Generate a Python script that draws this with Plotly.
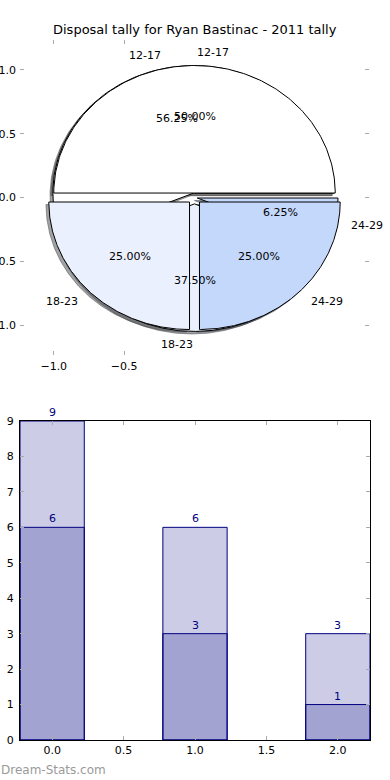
import numpy as np
import plotly.graph_objects as go

# ---------------- data ----------------
title_text = "Disposal tally for Ryan Bastinac - 2011 tally"
categories = ["12-17", "18-23", "24-29"]
pie_a_values = [9, 6, 1]      # 56.25% / 37.50% / 6.25%
pie_b_values = [6, 3, 3]      # 50.00% / 25.00% / 25.00%
pie_a_explode = [0.035, 0.05, 0.02]
pie_b_explode = [0.035, 0.05, 0.05]
slice_colors = ["#FFFFFF", "#EAF0FD", "#C4D8FB"]

bar_x = [0, 1, 2]
bar_back = [9, 6, 3]
bar_front = [6, 3, 1]

pie_xticks = [-1.0, -0.5]
pie_yticks = [1.0, 0.5, 0.0, -0.5, -1.0]
bar_xticks = [0.0, 0.5, 1.0, 1.5, 2.0]
bar_yticks = list(range(0, 10))

FONT = "DejaVu Sans"
W, H = 390, 780

fig = go.Figure()


def hex_rgb(h):
    h = h.lstrip("#")
    return tuple(int(h[i:i + 2], 16) for i in (0, 2, 4))


def wedges(values, explode):
    total = float(sum(values))
    out = []
    start = 0.0
    for v, ex in zip(values, explode):
        frac = v / total
        t1 = start * 360.0
        t2 = (start + frac) * 360.0
        tm = np.deg2rad((t1 + t2) / 2)
        cx = ex * np.cos(tm)
        cy = ex * np.sin(tm)
        th = np.deg2rad(np.linspace(t1, t2, 200))
        xs = np.concatenate([[cx], cx + np.cos(th), [cx]])
        ys = np.concatenate([[cy], cy + np.sin(th), [cy]])
        out.append(dict(xs=xs, ys=ys, tm=tm, cx=cx, cy=cy, pct=frac * 100))
        start += frac
    return out


pies = [wedges(pie_a_values, pie_a_explode), wedges(pie_b_values, pie_b_explode)]

# shadows (drawn below all wedges)
for wl in pies:
    for i, w in enumerate(wl):
        r, g, b = hex_rgb(slice_colors[i])
        col = "rgba(%d,%d,%d,0.5)" % (r * 0.3, g * 0.3, b * 0.3)
        fig.add_trace(go.Scatter(x=w["xs"] - 0.02, y=w["ys"] - 0.02, mode="lines",
                                 fill="toself", fillcolor=col,
                                 line=dict(color=col, width=1),
                                 xaxis="x", yaxis="y", showlegend=False, hoverinfo="skip"))

# wedges
for wl in pies:
    for i, w in enumerate(wl):
        fig.add_trace(go.Scatter(x=w["xs"], y=w["ys"], mode="lines",
                                 fill="toself", fillcolor=slice_colors[i],
                                 line=dict(color="black", width=1),
                                 xaxis="x", yaxis="y", showlegend=False, hoverinfo="skip"))

annotations = []
for wl in pies:
    for i, w in enumerate(wl):
        tm = w["tm"]
        lx = w["cx"] + 1.1 * np.cos(tm)
        ly = w["cy"] + 1.1 * np.sin(tm)
        annotations.append(dict(x=lx, y=ly, xref="x", yref="y", text=categories[i],
                                showarrow=False, xanchor="left" if lx > 0 else "right",
                                yanchor="middle", font=dict(family=FONT, size=11, color="black")))
        px_ = w["cx"] + 0.6 * np.cos(tm)
        py_ = w["cy"] + 0.6 * np.sin(tm)
        annotations.append(dict(x=px_, y=py_, xref="x", yref="y", text="%.2f%%" % w["pct"],
                                showarrow=False, xanchor="center", yanchor="middle",
                                font=dict(family=FONT, size=11, color="black")))

# bars
bar_fill = "rgba(0,0,128,0.2)"
for vals in (bar_back, bar_front):
    fig.add_trace(go.Bar(x=bar_x, y=vals, width=0.45, marker=dict(color=bar_fill,
                         line=dict(color="#000080", width=1)),
                         xaxis="x2", yaxis="y2", showlegend=False, hoverinfo="skip"))
    for xv, yv in zip(bar_x, vals):
        annotations.append(dict(x=xv, y=yv, xref="x2", yref="y2", text=str(yv),
                                showarrow=False, xanchor="center", yanchor="bottom", yshift=0,
                                font=dict(family=FONT, size=11, color="#000080")))

annotations.append(dict(x=0.5, y=1 - 30 / H, xref="paper", yref="paper", text=title_text,
                        showarrow=False, xanchor="center", yanchor="middle",
                        font=dict(family=FONT, size=13, color="black")))
annotations.append(dict(x=-1 / W, y=1 - 770 / H, xref="paper", yref="paper", text="Dream-Stats.com",
                        showarrow=False, xanchor="left", yanchor="middle",
                        font=dict(family=FONT, size=12, color="#9a9a9a")))

tickfont = dict(family=FONT, size=11, color="black")
xdom = [20 / W, 369 / W]
fig.update_layout(
    width=W, height=H, margin=dict(l=0, r=0, t=0, b=0),
    paper_bgcolor="white", plot_bgcolor="white",
    barmode="overlay",
    annotations=annotations,
    xaxis=dict(domain=xdom, range=[-1.24, 1.24], tickvals=pie_xticks,
               ticktext=["\u22121.0", "\u22120.5"], showgrid=False, zeroline=False,
               showline=False, ticks="inside", ticklen=4, tickcolor="#aaaaaa",
               mirror="ticks", tickfont=tickfont, anchor="y", automargin=False,
               ticklabelstandoff=3),
    yaxis=dict(domain=[1 - 355 / H, 1 - 40 / H], range=[-1.235, 1.235], tickvals=pie_yticks,
               ticktext=["1.0", "0.5", "0.0", "\u22120.5", "\u22121.0"], showgrid=False,
               zeroline=False, showline=False, ticks="inside", ticklen=4, tickcolor="#aaaaaa",
               mirror="ticks", tickfont=tickfont, anchor="x", automargin=False,
               ticklabelstandoff=3),
    xaxis2=dict(domain=[20 / W, 370 / W], range=[-0.225, 2.225], tickvals=bar_xticks,
                ticktext=["%.1f" % v for v in bar_xticks], showgrid=False, zeroline=False,
                showline=True, linecolor="black", linewidth=1, mirror="ticks",
                ticks="inside", ticklen=4, tickcolor="#aaaaaa", tickfont=tickfont,
                anchor="y2", automargin=False),
    yaxis2=dict(domain=[1 - 740 / H, 1 - 421 / H], range=[0, 9], tickvals=bar_yticks,
                showgrid=False, zeroline=False, showline=True, linecolor="black", linewidth=1,
                mirror="ticks", ticks="inside", ticklen=4, tickcolor="#aaaaaa",
                tickfont=tickfont, anchor="x2", automargin=False, ticklabelstandoff=3),
)

fig.write_html("out.html", config={"displayModeBar": False},
               post_script="document.body.style.margin='0';")
